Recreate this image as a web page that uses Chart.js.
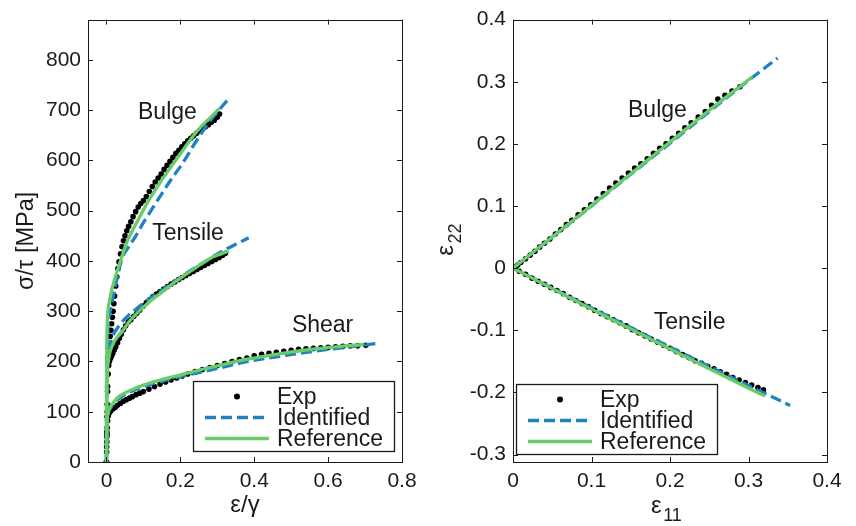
<!DOCTYPE html>
<html>
<head>
<meta charset="utf-8">
<script src="https://cdn.jsdelivr.net/npm/chart.js@4.4.1/dist/chart.umd.min.js"></script>
<style>
    body { margin: 0; background: #fff; }
    #wrap { position: relative; width: 856px; height: 526px; }
    #chart1 { position: absolute; left: 0; top: 0; }
    #chart2 { position: absolute; left: 430px; top: 0; }
</style>
</head>
<body>
<div id="wrap">
    <canvas id="chart1" width="430" height="526"></canvas>
    <canvas id="chart2" width="426" height="526"></canvas>
</div>
<script>
const FONT = '"Liberation Sans", Arial, Helvetica, sans-serif'
const INK = '#1a1a1a'
const BLUE = '#1f83c2'
const GREEN = '#68cd68'

// ---- left panel: sigma/tau [MPa] vs eps/gamma ----
const bulgeExpX = [0,0.001,0.002,0.003,0.004,0.005,0.006,0.008,0.01,0.012,0.014,0.016,0.018,0.02,0.022,0.025,0.028,0.031,0.034,0.038,0.042,0.046,0.05,0.055,0.06,0.066,0.072,0.079,0.086,0.093,0.1,0.108,0.116,0.124,0.132,0.14,0.148,0.156,0.164,0.172,0.18,0.188,0.196,0.204,0.212,0.22,0.228,0.236,0.244,0.252,0.26,0.268,0.276,0.284,0.292,0.3,0.306]
const bulgeExpY = [0,50,100,140,175,200,215,235,250,262,275,288,300,315,330,350,368,385,398,414,428,440,450,460,469,478,488,498,507,514,520,528,538,548,557,565,573,582,590,598,606,614,620,627,633,639,644,649,654,659,663,667,671,676,680,686,692]
const bulgeRefX = [0,0.0003,0.0007,0.0012,0.002,0.003,0.005,0.008,0.012,0.017,0.023,0.03,0.04,0.055,0.07,0.09,0.114,0.14,0.168,0.2,0.232,0.26,0.285,0.305]
const bulgeRefY = [0,120,200,245,275,292,308,320,335,350,366,382,405,437,460,488,520,550,580,613,646,670,688,703]
const bulgeIdX = [0,0.0005,0.002,0.005,0.01,0.02,0.03,0.042,0.06,0.078,0.1,0.123,0.15,0.177,0.205,0.241,0.28,0.33]
const bulgeIdY = [0,180,240,275,300,335,370,405,428,448,476,503,534,564,593,636,678,722]

const tensExpX = [0,0.0005,0.001,0.0015,0.002,0.003,0.004,0.006,0.008,0.011,0.014,0.017,0.021,0.025,0.03,0.035,0.04,0.046,0.052,0.059,0.066,0.074,0.082,0.09,0.099,0.108,0.117,0.126,0.135,0.145,0.155,0.165,0.175,0.185,0.195,0.205,0.215,0.225,0.235,0.245,0.255,0.265,0.275,0.285,0.295,0.305,0.314,0.322]
const tensExpY = [0,30,60,90,115,150,175,192,200,206,211,216,223,229,237,246,254,263,271,279,283,290,296,302,310,317,323,329,334,339,344,349,354,358,363,367,371,375,379,383,387,391,395,399,403,407,411,415]
const tensRefX = [0,0.0015,0.003,0.005,0.01,0.02,0.03,0.042,0.06,0.087,0.115,0.15,0.185,0.223,0.255,0.286,0.31,0.331]
const tensRefY = [0,150,185,200,220,238,249,259,278,299,318,338,358,377,393,407,414,420]
const tensIdX = [0,0.001,0.005,0.015,0.035,0.06,0.09,0.12,0.15,0.19,0.23,0.27,0.31,0.35,0.385]
const tensIdY = [0,200,225,248,272,292,310,327,342,362,382,400,418,433,446]

const shearExpX = [0,0.0005,0.001,0.0015,0.002,0.003,0.005,0.008,0.012,0.018,0.024,0.03,0.038,0.046,0.054,0.062,0.07,0.08,0.09,0.1,0.115,0.13,0.145,0.16,0.175,0.19,0.205,0.22,0.24,0.26,0.28,0.3,0.32,0.34,0.36,0.38,0.4,0.42,0.44,0.46,0.48,0.5,0.52,0.54,0.56,0.58,0.6,0.62,0.64,0.66,0.68,0.702]
const shearExpY = [0,20,40,55,68,82,92,98,102,106,109,113,117,121,124,127,130,134,137,140,145,150,155,159,163,167,171,175,180,184,188,192,196,200,204,207,211,214,216,218,220,222,224,225,226,227,228,229,230,231,231,232]
const shearRefX = [0,0.001,0.002,0.004,0.01,0.02,0.035,0.06,0.1,0.15,0.2,0.241,0.3,0.376,0.45,0.512,0.602,0.697]
const shearRefY = [0,50,80,95,109,120,131,141,153,164,173,181,191,204,213,220,228,234]
const shearIdX = [0,0.001,0.004,0.01,0.02,0.035,0.06,0.1,0.15,0.2,0.25,0.3,0.376,0.45,0.512,0.6,0.68,0.734]
const shearIdY = [0,60,95,106,117,127,138,150,161,170,178,186,199,208,215,224,231,236]

const strainTicks = [0, 0.2, 0.4, 0.6, 0.8]
const stressTicks = [0, 100, 200, 300, 400, 500, 600, 700, 800]

// ---- right panel: eps22 vs eps11 ----
const bulge2ExpX = [0,0.003,0.006,0.01,0.016,0.022,0.028,0.034,0.04,0.047,0.054,0.061,0.068,0.075,0.083,0.091,0.099,0.107,0.115,0.123,0.131,0.139,0.147,0.155,0.163,0.171,0.179,0.187,0.195,0.203,0.211,0.219,0.227,0.236,0.245,0.253,0.261,0.27,0.279,0.289]
const bulge2ExpY = [0,0.002,0.005,0.009,0.015,0.021,0.027,0.034,0.04,0.047,0.055,0.062,0.07,0.077,0.086,0.094,0.102,0.111,0.12,0.129,0.137,0.145,0.153,0.161,0.168,0.176,0.185,0.193,0.2,0.209,0.217,0.226,0.234,0.243,0.252,0.262,0.272,0.278,0.285,0.292]
const bulge2RefX = [0,0.05,0.1,0.15,0.2,0.25,0.305]
const bulge2RefY = [0,0.05,0.101,0.152,0.203,0.254,0.308]
const bulge2IdX = [0,0.05,0.1,0.15,0.2,0.25,0.3,0.337]
const bulge2IdY = [0,0.05,0.1,0.151,0.201,0.252,0.302,0.338]

const tens2ExpX = [0,0.008,0.016,0.024,0.032,0.04,0.048,0.056,0.064,0.072,0.08,0.088,0.096,0.104,0.112,0.12,0.128,0.136,0.144,0.152,0.16,0.168,0.176,0.184,0.192,0.2,0.208,0.216,0.224,0.232,0.24,0.248,0.256,0.264,0.272,0.28,0.288,0.296,0.304,0.312,0.319]
const tens2ExpY = [0,-0.005,-0.01,-0.016,-0.021,-0.026,-0.031,-0.036,-0.041,-0.047,-0.052,-0.057,-0.062,-0.068,-0.073,-0.078,-0.083,-0.088,-0.093,-0.099,-0.104,-0.109,-0.114,-0.119,-0.124,-0.129,-0.134,-0.139,-0.144,-0.149,-0.153,-0.158,-0.162,-0.167,-0.171,-0.176,-0.18,-0.184,-0.188,-0.192,-0.196]
const tens2RefX = [0,0.05,0.1,0.15,0.2,0.25,0.29,0.321]
const tens2RefY = [0,-0.033,-0.066,-0.098,-0.13,-0.162,-0.187,-0.206]
const tens2IdX = [0,0.1,0.2,0.3,0.353]
const tens2IdY = [0,-0.064,-0.127,-0.189,-0.221]

const e11Ticks = [0, 0.1, 0.2, 0.3, 0.4]
const e22Ticks = [-0.3, -0.2, -0.1, 0, 0.1, 0.2, 0.3, 0.4]

const legendLabels = ['Exp', 'Identified', 'Reference']

function pts(xs, ys){
    return xs.map((x, i) => ({x: x, y: ys[i]}))
}

function expSet(xs, ys){
    return {label: 'Exp', data: pts(xs, ys), showLine: false, pointRadius: 2.8,
        pointBackgroundColor: '#000', pointBorderWidth: 0, order: 2}
}
function idSet(xs, ys){
    return {label: 'Identified', data: pts(xs, ys), showLine: true, pointRadius: 0,
        borderColor: BLUE, borderWidth: 3.3, borderDash: [11, 5], cubicInterpolationMode: 'monotone', order: 1}
}
function refSet(xs, ys){
    return {label: 'Reference', data: pts(xs, ys), showLine: true, pointRadius: 0,
        borderColor: GREEN, borderWidth: 3.3, cubicInterpolationMode: 'monotone', order: 0}
}

const fmt = v => String(Math.round(v * 100) / 100)

// symbol with a subscript, left end at (0,0) on the baseline
function subText(ctx, main, sub){
    ctx.font = '24px ' + FONT
    ctx.fillText(main, 0, 0)
    const w = ctx.measureText(main).width
    ctx.font = '18px ' + FONT
    ctx.fillText(sub, w + 1.5, 8)
    return w + 1.5 + ctx.measureText(sub).width
}

// box, inward ticks, text notes and legend
const decor = {
    id: 'decor',
    afterDraw(chart, args, opts){
        const ctx = chart.ctx
        const a = chart.chartArea
        const sx = chart.scales.x, sy = chart.scales.y
        ctx.save()
        ctx.strokeStyle = INK
        ctx.lineWidth = 1
        ctx.strokeRect(Math.round(a.left) + 0.5, Math.round(a.top) + 0.5, Math.round(a.right - a.left), Math.round(a.bottom - a.top))
        ctx.beginPath()
        sx.ticks.forEach(t => {
            const px = Math.round(sx.getPixelForValue(t.value)) + 0.5
            ctx.moveTo(px, a.bottom); ctx.lineTo(px, a.bottom - 5)
            ctx.moveTo(px, a.top); ctx.lineTo(px, a.top + 5)
        })
        sy.ticks.forEach(t => {
            const py = Math.round(sy.getPixelForValue(t.value)) + 0.5
            ctx.moveTo(a.left, py); ctx.lineTo(a.left + 5, py)
            ctx.moveTo(a.right, py); ctx.lineTo(a.right - 5, py)
        })
        ctx.stroke()

        // curve names
        ctx.fillStyle = INK
        ctx.font = '23px ' + FONT
        ctx.textAlign = 'center'
        ctx.textBaseline = 'middle'
        opts.notes.forEach(n => {
            ctx.fillText(n.text, sx.getPixelForValue(n.x), sy.getPixelForValue(n.y))
        })

        // legend
        const L = opts.legend
        const bx = L.right !== undefined ? a.right - L.right - 201 : a.left + L.left
        const by = a.bottom - L.bottom - 70
        ctx.fillStyle = '#fff'
        ctx.fillRect(bx, by, 201, 70)
        ctx.strokeStyle = INK
        ctx.lineWidth = 1.3
        ctx.strokeRect(Math.round(bx) + 0.5, Math.round(by) + 0.5, 201, 70)
        const rows = [15.5, 36.5, 57.5]
        legendLabels.forEach((lab, i) => {
            const ds = chart.data.datasets.find(d => d.label === lab)
            const ry = by + rows[i]
            if (ds.showLine){
                ctx.save()
                ctx.strokeStyle = ds.borderColor
                ctx.lineWidth = ds.borderWidth
                ctx.setLineDash(ds.borderDash || [])
                ctx.beginPath()
                ctx.moveTo(bx + 12, ry); ctx.lineTo(bx + 76, ry)
                ctx.stroke()
                ctx.restore()
            } else {
                ctx.fillStyle = ds.pointBackgroundColor
                ctx.beginPath()
                ctx.arc(bx + 44, ry, 3, 0, Math.PI * 2)
                ctx.fill()
            }
            ctx.fillStyle = INK
            ctx.textAlign = 'left'
            ctx.font = '23px ' + FONT
            ctx.fillText(lab, bx + 84, ry + 1)
        })

        // sub-scripted axis titles
        if (opts.titles){
            ctx.fillStyle = INK
            ctx.textAlign = 'left'
            ctx.textBaseline = 'alphabetic'
            const cx = (a.left + a.right) / 2
            ctx.save()
            ctx.translate(cx - 19, 513)
            subText(ctx, 'ε', '11')
            ctx.restore()

            const cy = (a.top + a.bottom) / 2
            ctx.save()
            ctx.translate(453, 0)
            ctx.translate(-430, cy + 15)
            ctx.rotate(-Math.PI / 2)
            subText(ctx, 'ε', '22')
            ctx.restore()
        }
        ctx.restore()
    }
}

function axis(min, max, tickVals, extra){
    return Object.assign({
        type: 'linear', min: min, max: max,
        afterBuildTicks: s => { s.ticks = tickVals.map(v => ({value: v})) },
        grid: {display: false, drawTicks: false},
        border: {display: false},
        ticks: {color: INK, font: {family: FONT, size: 21}, maxRotation: 0, padding: 7, callback: fmt}
    }, extra)
}

function grafico1(){
    const data = {
        datasets: [
            expSet(bulgeExpX, bulgeExpY), idSet(bulgeIdX, bulgeIdY), refSet(bulgeRefX, bulgeRefY),
            expSet(tensExpX, tensExpY), idSet(tensIdX, tensIdY), refSet(tensRefX, tensRefY),
            expSet(shearExpX, shearExpY), idSet(shearIdX, shearIdY), refSet(shearRefX, shearRefY)
        ]
    }
    const x = axis(-0.05, 0.8, strainTicks, {
        afterFit: s => { s.height = 64 },
        title: {display: true, text: 'ε/γ', color: INK, font: {family: FONT, size: 24}, padding: {top: 0, bottom: 6}}
    })
    const y = axis(0, 880, stressTicks, {
        afterFit: s => { s.width = 88 },
        title: {display: true, text: 'σ/τ [MPa]', color: INK, font: {family: FONT, size: 23.5}, padding: {top: 12, bottom: 0}}
    })
    new Chart(document.getElementById('chart1'), {
        type: 'scatter',
        data,
        options: {
            responsive: false, animation: false,
            layout: {padding: {left: 0, right: 28, top: 14, bottom: 0}},
            scales: {x, y},
            plugins: {
                legend: {display: false}, tooltip: {enabled: false},
                decor: {
                    notes: [{text: 'Bulge', x: 0.165, y: 695}, {text: 'Tensile', x: 0.221, y: 454}, {text: 'Shear', x: 0.585, y: 271}],
                    legend: {right: 8, bottom: 11}
                }
            }
        },
        plugins: [decor]
    })
}

function grafico2(){
    const data = {
        datasets: [
            expSet(bulge2ExpX, bulge2ExpY), idSet(bulge2IdX, bulge2IdY), refSet(bulge2RefX, bulge2RefY),
            expSet(tens2ExpX, tens2ExpY), idSet(tens2IdX, tens2IdY), refSet(tens2RefX, tens2RefY)
        ]
    }
    const x = axis(0, 0.4, e11Ticks, {afterFit: s => { s.height = 64 }})
    const y = axis(-0.312, 0.4, e22Ticks, {afterFit: s => { s.width = 83 }})
    new Chart(document.getElementById('chart2'), {
        type: 'scatter',
        data,
        options: {
            responsive: false, animation: false,
            layout: {padding: {left: 0, right: 29, top: 14, bottom: 0}},
            scales: {x, y},
            plugins: {
                legend: {display: false}, tooltip: {enabled: false},
                decor: {
                    notes: [{text: 'Bulge', x: 0.184, y: 0.253}, {text: 'Tensile', x: 0.225, y: -0.087}],
                    legend: {left: 3, bottom: 8},
                    titles: true
                }
            }
        },
        plugins: [decor]
    })
}

grafico1()
grafico2()
</script>
</body>
</html>
